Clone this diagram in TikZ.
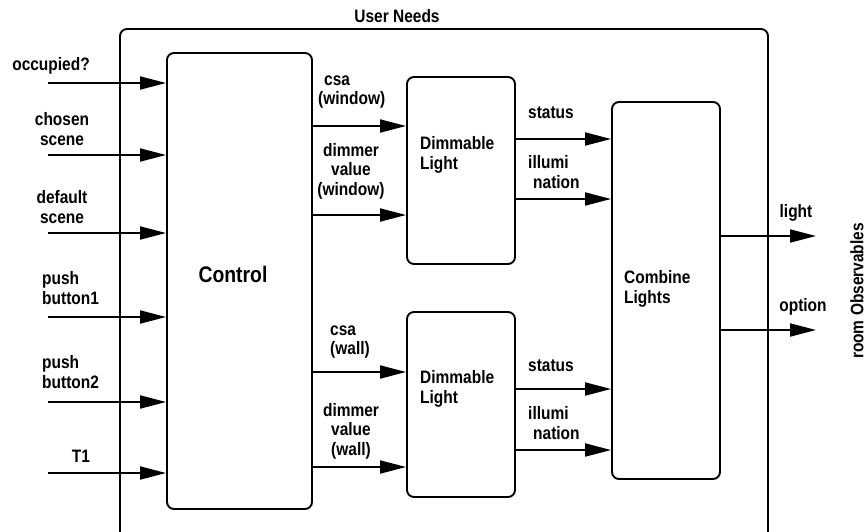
\documentclass[tikz,border=0pt]{standalone}
\usepackage{fontspec}
\setmainfont{Liberation Sans}[FakeStretch=0.86]
\usetikzlibrary{arrows.meta}
\tikzset{
  blk/.style={draw, line width=1.9pt, rounded corners=7pt},
  flow/.style={line width=1.9pt, -{Triangle[length=26pt,width=13pt]}},
  lbl/.style={font=\fontsize{18}{19.5}\selectfont\bfseries, inner sep=0pt},
  biglbl/.style={font=\fontsize{22.5}{24}\selectfont\bfseries, inner sep=0pt},
}
\begin{document}
\begin{tikzpicture}[x=1pt,y=-1pt]
\useasboundingbox (0,0) rectangle (867,531);
\clip (0,0) rectangle (867,531);
% outer
\draw[blk] (120,29) rectangle (768,545);
\node[lbl] (un) at (397,16) {User Needs};
% blocks
\node[blk, minimum width=145pt, minimum height=456pt, inner sep=0pt] (ctl) at (239.5,281) {};
\node[biglbl] (ctltxt) at (233,274) {Control};
\node[blk, minimum width=108pt, minimum height=187pt, inner sep=0pt] (dl1) at (461,170.5) {};
\node[blk, minimum width=108pt, minimum height=185pt, inner sep=0pt] (dl2) at (461,404.5) {};
\node[blk, minimum width=108pt, minimum height=377pt, inner sep=0pt] (cl) at (666,290.5) {};
\node[lbl, anchor=west, align=left] (dl1t) at (420,155) {Dimmable\\Light};
\node[lbl, anchor=west, align=left] (dl2t) at (420,389) {Dimmable\\Light};
\node[lbl, anchor=west, align=left] (clt) at (624,289) {Combine\\Lights};
% inputs to control
\foreach \n/\y in {a/83,b/155,c/233,d/317,e/402,f/473}{
  \coordinate (in\n) at (48,\y);
  \draw[flow] (in\n) -- (ctl.west |- in\n);
}
\node[lbl] (l1) at (51,66) {occupied?};
\node[lbl, align=center] (l2) at (62,129) {chosen\\scene};
\node[lbl, align=center] (l3) at (62,207) {default\\scene};
\node[lbl, align=left, anchor=west] (l4) at (42,288) {push\\button1};
\node[lbl, align=left, anchor=west] (l5) at (42,372) {push\\button2};
\node[lbl] (l6) at (81,456) {T1};
% control to dimmable lights
\coordinate (c1) at (312,126);
\coordinate (c2) at (312,215);
\coordinate (c3) at (312,372);
\coordinate (c4) at (312,467);
\draw[flow] (c1) -- (dl1.west |- c1);
\draw[flow] (c2) -- (dl1.west |- c2);
\draw[flow] (c3) -- (dl2.west |- c3);
\draw[flow] (c4) -- (dl2.west |- c4);
\node[lbl, align=left, anchor=west] (m1) at (318,92) {\hspace{6pt}csa\\(window)};
\node[lbl, align=center] (m2) at (351,171) {dimmer\\value\\(window)};
\node[lbl, align=left, anchor=west] (m3) at (330,342) {csa\\(wall)};
\node[lbl, align=center] (m4) at (351,431) {dimmer\\value\\(wall)};
% dimmable lights to combine
\coordinate (d1) at (515,139);
\coordinate (d2) at (515,199);
\coordinate (d3) at (515,389);
\coordinate (d4) at (515,450);
\draw[flow] (d1) -- (cl.west |- d1);
\draw[flow] (d2) -- (cl.west |- d2);
\draw[flow] (d3) -- (cl.west |- d3);
\draw[flow] (d4) -- (cl.west |- d4);
\node[lbl] (s1) at (551,113) {status};
\node[lbl, align=left, anchor=west] (i1) at (528,172) {illumi\\\hspace{5pt}nation};
\node[lbl] (s2) at (551,366) {status};
\node[lbl, align=left, anchor=west] (i2) at (528,423) {illumi\\\hspace{5pt}nation};
% outputs
\coordinate (o1) at (816,236);
\coordinate (o2) at (816,330);
\draw[flow] (cl.east |- o1) -- (o1);
\draw[flow] (cl.east |- o2) -- (o2);
\node[lbl] (ol1) at (796,213) {light};
\node[lbl] (ol2) at (803,307) {option};
\node[lbl, rotate=90] (ro) at (857,291) {room Observables};
\end{tikzpicture}
\end{document}
